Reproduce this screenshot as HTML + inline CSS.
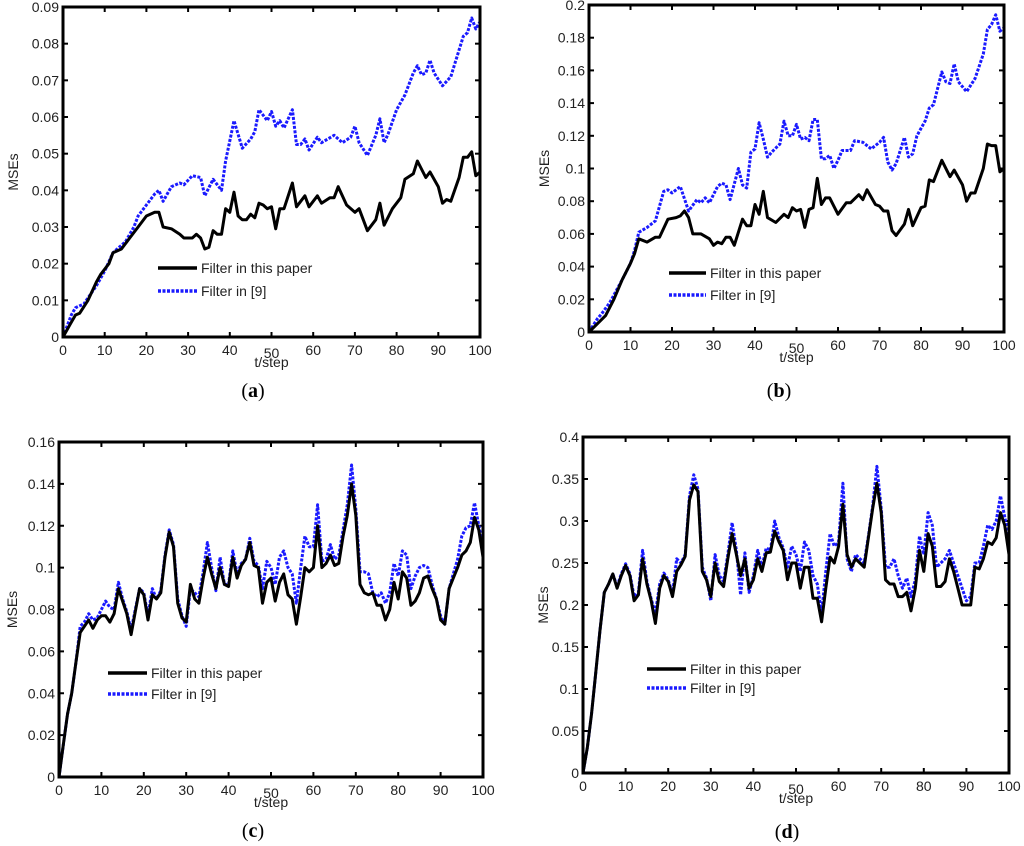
<!DOCTYPE html>
<html><head><meta charset="utf-8">
<style>
html,body{margin:0;padding:0;background:#fff;}
svg{display:block;font-family:"Liberation Sans",sans-serif;}
</style></head>
<body>
<svg id="fig" width="1024" height="846" viewBox="0 0 1024 846"></svg>
<script>
// Panel (a)
const tA_black=[0,2,3,4,6,8,9,11,12,14,16,18,20,22,23,24,26,28,29,31,32,33,34,35,36,37,38,39,40,41,42,43,44,45,46,47,48,49,50,51,52,53,55,56,58,59,61,62,64,65,66,68,70,71,73,75,76,77,79,81,82,84,85,87,88,90,91,92,93,95,96,97,98,99,100];
const vA_black=[0,0.004,0.006,0.0065,0.01,0.015,0.017,0.02,0.023,0.024,0.027,0.03,0.033,0.034,0.034,0.03,0.0295,0.028,0.027,0.027,0.028,0.027,0.024,0.0245,0.029,0.028,0.028,0.035,0.034,0.0395,0.033,0.032,0.032,0.0335,0.0325,0.0365,0.036,0.035,0.0355,0.0295,0.035,0.035,0.042,0.0355,0.0385,0.0355,0.0385,0.0365,0.038,0.038,0.041,0.036,0.034,0.035,0.029,0.032,0.0365,0.0305,0.035,0.038,0.043,0.0445,0.048,0.0435,0.045,0.041,0.0365,0.0375,0.037,0.0435,0.049,0.049,0.0505,0.044,0.045];
const tA_blue=[0,2,3,5,8,10,12,15,17,18,20,22,23,24,26,28,29,31,33,34,36,38,39,41,43,45,46,47,49,50,51,52,53,55,56,57,58,59,61,62,65,67,69,70,71,73,75,76,77,78,80,82,84,85,86,87,88,89,91,93,96,97,98,99,100];
const vA_blue=[0,0.006,0.008,0.009,0.014,0.018,0.023,0.026,0.03,0.033,0.036,0.039,0.04,0.037,0.041,0.042,0.0415,0.044,0.0435,0.0385,0.043,0.04,0.048,0.059,0.0515,0.054,0.056,0.062,0.059,0.0615,0.0575,0.059,0.057,0.062,0.0525,0.0525,0.054,0.051,0.0545,0.053,0.055,0.053,0.0545,0.0575,0.053,0.0495,0.055,0.0595,0.053,0.0555,0.062,0.066,0.072,0.074,0.0715,0.072,0.0755,0.072,0.0685,0.071,0.082,0.083,0.087,0.084,0.086];
const ticksA=["0","0.01","0.02","0.03","0.04","0.05","0.06","0.07","0.08","0.09"];
// Panel (b)
const tB_black=[0,2,4,6,8,10,11,12,14,16,17,19,21,22,23,24,25,27,29,30,31,32,33,34,35,37,38,39,40,41,42,43,45,47,48,49,50,51,52,53,54,55,56,57,58,60,62,63,65,66,67,69,70,71,72,73,74,76,77,78,80,81,82,83,85,87,88,90,91,92,93,95,96,97,98,99,100];
const vB_black=[0,0.005,0.01,0.02,0.032,0.042,0.048,0.057,0.055,0.058,0.058,0.069,0.07,0.071,0.074,0.07,0.06,0.06,0.057,0.053,0.055,0.054,0.058,0.058,0.053,0.069,0.065,0.065,0.078,0.072,0.086,0.07,0.067,0.072,0.07,0.076,0.074,0.075,0.064,0.075,0.076,0.094,0.078,0.082,0.082,0.072,0.079,0.079,0.084,0.081,0.087,0.078,0.077,0.074,0.074,0.062,0.059,0.066,0.075,0.065,0.076,0.077,0.093,0.092,0.105,0.095,0.099,0.09,0.08,0.085,0.085,0.1,0.115,0.114,0.114,0.098,0.1];
const tB_blue=[0,2,3,5,8,10,11,12,14,16,18,19,20,22,24,26,27,28,29,31,32,33,34,36,37,38,39,40,41,42,43,44,46,47,48,49,50,51,52,53,54,55,56,57,58,59,60,61,63,64,66,68,70,71,72,73,74,76,77,78,79,81,82,83,85,86,87,88,89,91,93,95,96,97,98,99,100];
const vB_blue=[0,0.008,0.011,0.018,0.032,0.042,0.05,0.061,0.064,0.068,0.086,0.087,0.085,0.089,0.074,0.081,0.079,0.082,0.079,0.089,0.091,0.09,0.081,0.1,0.09,0.088,0.11,0.112,0.128,0.118,0.107,0.11,0.115,0.129,0.12,0.12,0.127,0.118,0.119,0.117,0.13,0.13,0.106,0.106,0.108,0.1,0.105,0.111,0.111,0.117,0.116,0.112,0.116,0.119,0.104,0.099,0.103,0.119,0.107,0.109,0.12,0.129,0.137,0.139,0.159,0.153,0.152,0.164,0.153,0.147,0.155,0.17,0.185,0.188,0.194,0.184,0.186];
const ticksB=["0","0.02","0.04","0.06","0.08","0.1","0.12","0.14","0.16","0.18","0.2"];
// Panel (c) (index = t)
const vC_black=[0,0.015,0.03,0.04,0.055,0.069,0.072,0.075,0.071,0.075,0.077,0.077,0.074,0.078,0.09,0.084,0.078,0.068,0.079,0.09,0.087,0.075,0.087,0.085,0.088,0.105,0.117,0.11,0.083,0.076,0.074,0.092,0.085,0.083,0.095,0.105,0.097,0.09,0.1,0.092,0.091,0.105,0.095,0.101,0.104,0.112,0.101,0.1,0.083,0.093,0.095,0.084,0.093,0.097,0.087,0.085,0.073,0.086,0.1,0.098,0.1,0.12,0.1,0.102,0.106,0.101,0.102,0.115,0.125,0.14,0.125,0.092,0.088,0.087,0.088,0.082,0.082,0.075,0.08,0.093,0.085,0.098,0.095,0.082,0.084,0.088,0.095,0.096,0.09,0.085,0.075,0.073,0.09,0.095,0.1,0.106,0.108,0.112,0.124,0.118,0.105];
const vC_blue=[0,0.015,0.03,0.04,0.055,0.072,0.074,0.078,0.075,0.076,0.08,0.084,0.081,0.08,0.093,0.085,0.079,0.07,0.08,0.09,0.088,0.077,0.09,0.085,0.089,0.106,0.118,0.111,0.085,0.077,0.072,0.09,0.088,0.086,0.098,0.112,0.1,0.089,0.105,0.092,0.092,0.108,0.097,0.102,0.104,0.114,0.103,0.101,0.09,0.103,0.1,0.092,0.105,0.108,0.1,0.097,0.083,0.1,0.115,0.11,0.11,0.13,0.103,0.104,0.111,0.104,0.106,0.118,0.13,0.149,0.128,0.098,0.098,0.097,0.088,0.086,0.088,0.083,0.088,0.102,0.096,0.108,0.106,0.09,0.096,0.1,0.101,0.1,0.092,0.085,0.077,0.073,0.09,0.097,0.104,0.115,0.119,0.12,0.131,0.12,0.11];
const ticksC=["0","0.02","0.04","0.06","0.08","0.1","0.12","0.14","0.16"];
// Panel (d) (index = t)
const vD_black=[0,0.03,0.07,0.12,0.17,0.215,0.225,0.237,0.22,0.235,0.247,0.235,0.205,0.212,0.255,0.225,0.205,0.178,0.22,0.235,0.228,0.21,0.24,0.248,0.258,0.325,0.343,0.335,0.24,0.23,0.21,0.25,0.228,0.222,0.255,0.285,0.26,0.235,0.255,0.22,0.23,0.255,0.24,0.262,0.263,0.288,0.275,0.265,0.23,0.25,0.25,0.22,0.245,0.245,0.208,0.208,0.18,0.22,0.257,0.25,0.27,0.32,0.26,0.245,0.255,0.25,0.245,0.28,0.315,0.345,0.31,0.23,0.225,0.225,0.21,0.21,0.215,0.193,0.22,0.265,0.24,0.285,0.27,0.222,0.222,0.228,0.255,0.24,0.22,0.2,0.2,0.2,0.245,0.243,0.255,0.275,0.272,0.28,0.31,0.295,0.26];
const vD_blue=[0,0.03,0.07,0.12,0.17,0.215,0.225,0.237,0.222,0.237,0.249,0.237,0.21,0.215,0.265,0.228,0.207,0.19,0.225,0.238,0.23,0.213,0.255,0.25,0.26,0.33,0.355,0.338,0.245,0.232,0.205,0.26,0.235,0.228,0.26,0.298,0.265,0.212,0.262,0.215,0.235,0.265,0.245,0.268,0.265,0.3,0.28,0.268,0.245,0.27,0.26,0.24,0.275,0.265,0.235,0.225,0.19,0.24,0.285,0.27,0.275,0.345,0.255,0.24,0.26,0.255,0.25,0.282,0.318,0.365,0.315,0.245,0.245,0.255,0.235,0.22,0.232,0.21,0.23,0.282,0.26,0.31,0.295,0.245,0.25,0.255,0.265,0.25,0.235,0.22,0.205,0.21,0.25,0.25,0.27,0.295,0.29,0.3,0.33,0.305,0.28];
const ticksD=["0","0.05","0.1","0.15","0.2","0.25","0.3","0.35","0.4"];
const xTicks=["0","10","20","30","40","50","60","70","80","90","100"];

const NS="http://www.w3.org/2000/svg";
const svg=document.getElementById('fig');
function mk(tag,attrs,parent){const e=document.createElementNS(NS,tag);for(const k in attrs)e.setAttribute(k,attrs[k]);(parent||svg).appendChild(e);return e;}
function idx(n){const a=[];for(let i=0;i<n;i++)a.push(i);return a;}

function panel(p){
  const g=mk('g',{});
  
  
  const L=p.L,R=p.R,T=p.T,B=p.B,ymax=p.ymax;
  const xs=t=>L+(R-L)*t/100;
  const ys=v=>B-(B-T)*v/ymax;
  // ticks
  p.yticks.forEach((lab,i)=>{
    const v=parseFloat(lab),y=ys(v);
    const tl=mk('line',{x1:L,x2:L+5,y1:y,y2:y,stroke:'#000','stroke-width':2},g);
    
    
    mk('line',{x1:R-5,x2:R,y1:y,y2:y,stroke:'#000','stroke-width':2},g);
    const tx=mk('text',{x:L-4,y:y+5,'text-anchor':'end','font-size':14,fill:'#222'},g);
    tx.textContent=lab;
    
    
  });
  xTicks.forEach(lab=>{
    const x=xs(parseFloat(lab));
    const tl=mk('line',{x1:x,x2:x,y1:B,y2:B-5,stroke:'#000','stroke-width':2},g);
    
    
    mk('line',{x1:x,x2:x,y1:T,y2:T+5,stroke:'#000','stroke-width':2},g);
    const tx=mk('text',{x:x,y:B+18+(lab==='50'?3:0),'text-anchor':'middle','font-size':14,fill:'#222'},g);
    tx.textContent=lab;
    
    
  });
  // series
  function series(ts,vs,color,dash,name){
    const d=ts.map((t,i)=>(i?'L':'M')+xs(t).toFixed(1)+','+ys(vs[i]).toFixed(1)).join(' ');
    const a={d:d,fill:'none',stroke:color,'stroke-width':3,'stroke-linejoin':'round'};
    if(dash)a['stroke-dasharray']=dash;
    const pth=mk('path',a,g);
    
    
  }
  series(p.tb,p.vb,'#1a1aff','3,1.5','series-filter-ref9');
  series(p.tk,p.vk,'#000',null,'series-filter-this-paper');
  // box
  const box=mk('rect',{x:L,y:T,width:R-L,height:B-T,fill:'none',stroke:'#000','stroke-width':3},g);
  
  
  // labels
  const xl=mk('text',{x:(L+R)/2,y:B+30,'text-anchor':'middle','font-size':14,fill:'#222'},g);
  xl.textContent='t/step';
  
  
  const yl=mk('text',{x:0,y:0,'text-anchor':'middle','font-size':14,fill:'#222',transform:`translate(${p.ylx},${(T+B)/2}) rotate(-90)`},g);
  yl.textContent='MSEs';
  
  
  // legend
  const lg=mk('g',{},g);
  
  
  const e1=mk('line',{x1:p.lx1,x2:p.lx2,y1:p.ly1,y2:p.ly1,stroke:'#000','stroke-width':3.5},lg);
  
  
  const e2=mk('line',{x1:p.lx1,x2:p.lx2,y1:p.ly2,y2:p.ly2,stroke:'#1a1aff','stroke-width':3.5,'stroke-dasharray':'3,1.5'},lg);
  
  
  const t1=mk('text',{x:p.lx2+4,y:p.ly1+5,'font-size':14,fill:'#222'},lg);
  t1.textContent='Filter in this paper';
  
  
  const t2=mk('text',{x:p.lx2+4,y:p.ly2+5,'font-size':14,fill:'#222'},lg);
  t2.textContent='Filter in [9]';
  
  
  // caption
  const cap=mk('text',{x:p.cx,y:p.cy,'text-anchor':'middle','font-size':20,fill:'#000','font-family':'Liberation Serif, serif'},g);
  cap.innerHTML='(<tspan font-weight="bold">'+p.id+'</tspan>)';
  
  
}

panel({id:'a',L:63,R:480,T:7,B:337,ymax:0.09,yticks:ticksA,tk:tA_black,vk:vA_black,tb:tA_blue,vb:vA_blue,ylx:18,lx1:158,lx2:197,ly1:268,ly2:291,cx:253,cy:397});
panel({id:'b',L:589,R:1004,T:5,B:332,ymax:0.2,yticks:ticksB,tk:tB_black,vk:vB_black,tb:tB_blue,vb:vB_blue,ylx:549,lx1:669,lx2:706,ly1:273,ly2:295,cx:779,cy:397});
panel({id:'c',L:59,R:483,T:442,B:777,ymax:0.16,yticks:ticksC,tk:idx(vC_black.length),vk:vC_black,tb:idx(vC_blue.length),vb:vC_blue,ylx:17,lx1:108,lx2:147,ly1:673,ly2:694,cx:253,cy:837});
panel({id:'d',L:583,R:1009,T:437,B:773,ymax:0.4,yticks:ticksD,tk:idx(vD_black.length),vk:vD_black,tb:idx(vD_blue.length),vb:vD_blue,ylx:548,lx1:647,lx2:686,ly1:669,ly2:688,cx:787,cy:838});
</script>
</body></html>
